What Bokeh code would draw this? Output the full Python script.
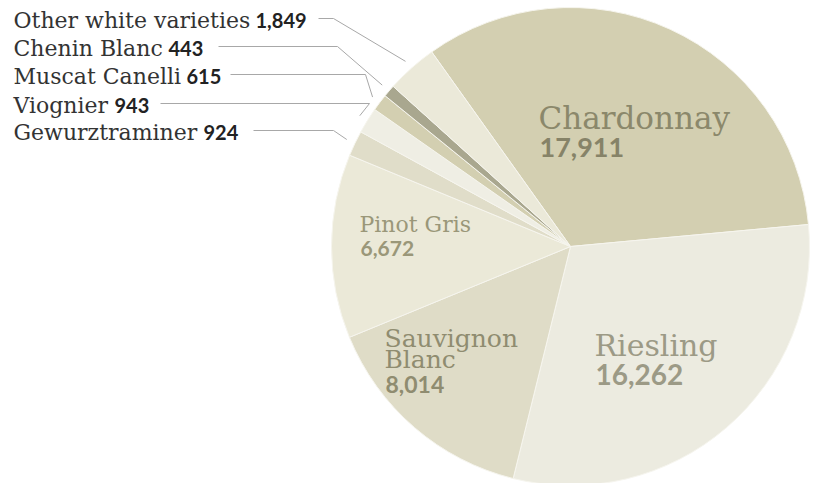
import math
from bokeh.plotting import figure
from bokeh.models import Range1d, ColumnDataSource
from bokeh.core.properties import value
from bokeh.embed import file_html
from bokeh.resources import INLINE

# ---- data ----
varieties = ["Chardonnay", "Riesling", "Sauvignon Blanc", "Pinot Gris",
             "Gewurztraminer", "Viognier", "Muscat Canelli", "Chenin Blanc",
             "Other white varieties"]
tons = [17911, 16262, 8014, 6672, 924, 943, 615, 443, 1849]
colors = ["#d3cfb1", "#ecebe0", "#dfdcc7", "#ebe9d8", "#e0ddc9",
          "#efeee4", "#d3cfb1", "#a9a78f", "#ebe9d9"]

# ---- layout ----
W, H = 813, 483
CX, CY, R = 570, 246, 239          # pie centre / radius in pixels
START = 125.5                      # start angle (deg), slices run clockwise
SERIF = "DejaVu Serif"
SANS = "Lato"
TDY = -7                           # vertical text correction


def Y(py):
    return H - py


def TY(py):
    return H - (py + TDY)


total = sum(tons)
starts, ends, mids = [], [], []
a = START
for v in tons:
    span = 360.0 * v / total
    ends.append(math.radians(a))
    starts.append(math.radians(a - span))
    mids.append(a - span / 2)
    a -= span

p = figure(width=W, height=H, x_range=Range1d(0, W), y_range=Range1d(0, H),
           output_backend="svg", toolbar_location=None, min_border=0)
p.axis.visible = False
p.grid.visible = False
p.outline_line_color = None
p.background_fill_color = "white"

src = ColumnDataSource(dict(start=starts, end=ends, color=colors))
p.wedge(x=CX, y=Y(CY), radius=R, start_angle="start", end_angle="end",
        fill_color="color", line_color="#f6f5ee", line_width=1, source=src)


def txt(x, y, s, font, size, color, bold=False):
    p.text(x=[x], y=[TY(y)], text=[s], text_font=value(font),
           text_font_size=size, text_color=color, text_baseline="alphabetic",
           text_font_style="bold" if bold else "normal")


# ---- big labels inside the pie ----
txt(538, 124, varieties[0], SERIF, "31px", "#8b886b")
txt(539, 154, f"{tons[0]:,}", SANS, "27px", "#868368", True)
txt(594, 352, varieties[1], SERIF, "30px", "#9c9a86")
txt(595, 381, f"{tons[1]:,}", SANS, "28px", "#9c9a86", True)
txt(359, 231, varieties[3], SERIF, "22px", "#9a9779")
txt(360, 255, f"{tons[3]:,}", SANS, "21px", "#9a9779", True)
sb = varieties[2].split(" ")
txt(384, 345, sb[0], SERIF, "25px", "#8f8c70")
txt(384, 366, sb[1], SERIF, "25px", "#8f8c70")
txt(385, 391, f"{tons[2]:,}", SANS, "23px", "#8f8c70", True)

# ---- small labels with leader lines ----
small_idx = [8, 7, 6, 5, 4]             # top to bottom
base_y = [27, 55, 83, 112, 139]
num_x = [255, 168, 186, 114, 203]
line_x0 = [318, 218, 230, 160, 253]
elbow_x = [333, 337, 365, 369, 333]
RL = 248
for k, i in enumerate(small_idx):
    by = base_y[k]
    txt(13, by, varieties[i], SERIF, "22px", "#333333")
    txt(num_x[k], by, f"{tons[i]:,}", SANS, "20px", "#222222", True)
    ly = by - 9
    ex = CX + RL * math.cos(math.radians(mids[i]))
    ey = CY - RL * math.sin(math.radians(mids[i]))
    p.line(x=[line_x0[k], elbow_x[k], ex], y=[Y(ly), Y(ly), Y(ey)],
           line_color="#a8a8a8", line_width=1)

open("out.html", "w").write(file_html(p, INLINE))
